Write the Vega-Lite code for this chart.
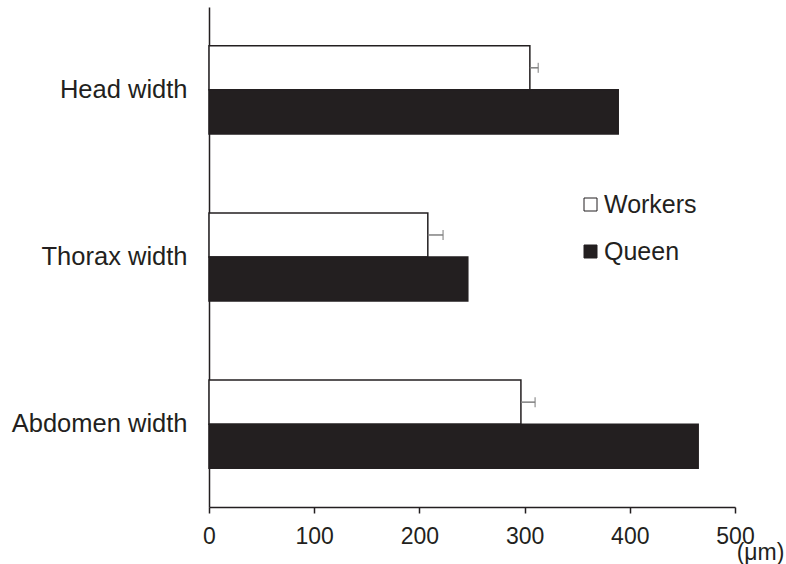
{
  "$schema": "https://vega.github.io/schema/vega-lite/v6.json",
  "width": 526,
  "height": 500,
  "autosize": {"type": "none"},
  "padding": {"left": 209, "top": 7, "right": 51, "bottom": 57},
  "background": "white",
  "config": {
    "view": {"stroke": null},
    "font": "Liberation Sans",
    "axis": {"domainColor": "#231f20", "domainWidth": 1.5, "tickColor": "#231f20", "tickWidth": 1.5, "labelColor": "#231f20", "labelFont": "Liberation Sans", "grid": false}
  },
  "data": {
    "values": [
      {"part": "Head width", "caste": "Workers", "value": 305, "upper": 313},
      {"part": "Head width", "caste": "Queen", "value": 389, "upper": null},
      {"part": "Thorax width", "caste": "Workers", "value": 208, "upper": 222.5},
      {"part": "Thorax width", "caste": "Queen", "value": 246, "upper": null},
      {"part": "Abdomen width", "caste": "Workers", "value": 296.5, "upper": 310},
      {"part": "Abdomen width", "caste": "Queen", "value": 465, "upper": null}
    ]
  },
  "encoding": {
    "y": {
      "field": "part", "type": "nominal",
      "sort": ["Head width", "Thorax width", "Abdomen width"],
      "scale": {"paddingInner": 0.473, "paddingOuter": 0.232},
      "axis": {"title": null, "ticks": false, "labelFontSize": 25.5, "labelPadding": 22, "domainColor": "#231f20"}
    },
    "yOffset": {
      "field": "caste", "type": "nominal",
      "sort": ["Workers", "Queen"],
      "scale": {"paddingInner": 0, "paddingOuter": 0}
    }
  },
  "layer": [
    {
      "mark": {"type": "bar", "stroke": "#231f20", "strokeWidth": 1.5},
      "encoding": {
        "x": {
          "field": "value", "type": "quantitative",
          "scale": {"domain": [0, 500], "nice": false},
          "axis": {
            "values": [0, 100, 200, 300, 400, 500],
            "tickSize": 6, "labelFontSize": 23, "labelPadding": 12, "labelFlush": false,
            "title": "(μm)", "titleFontSize": 23, "titleFontWeight": "normal", "titleColor": "#231f20",
            "titleX": 551, "titleY": 45, "titleAlign": "center", "titleBaseline": "middle"
          }
        },
        "fill": {
          "field": "caste", "type": "nominal",
          "sort": ["Workers", "Queen"],
          "scale": {"domain": ["Workers", "Queen"], "range": ["#ffffff", "#231f20"]},
          "legend": {
            "title": null, "orient": "none", "legendX": 369, "legendY": 185,
            "symbolType": "square", "symbolSize": 169, "symbolStrokeColor": "#231f20", "symbolStrokeWidth": 1,
            "labelFontSize": 25, "labelColor": "#231f20", "labelOffset": 1, "rowPadding": 21, "padding": 0
          }
        }
      }
    },
    {
      "transform": [{"filter": "datum.upper != null"}],
      "mark": {"type": "rule", "color": "#808080", "strokeWidth": 1.5},
      "encoding": {
        "x": {"field": "value", "type": "quantitative"},
        "x2": {"field": "upper"}
      }
    },
    {
      "transform": [{"filter": "datum.upper != null"}],
      "mark": {"type": "tick", "color": "#808080", "thickness": 1.5, "size": 10, "orient": "vertical"},
      "encoding": {
        "x": {"field": "upper", "type": "quantitative"}
      }
    }
  ]
}
